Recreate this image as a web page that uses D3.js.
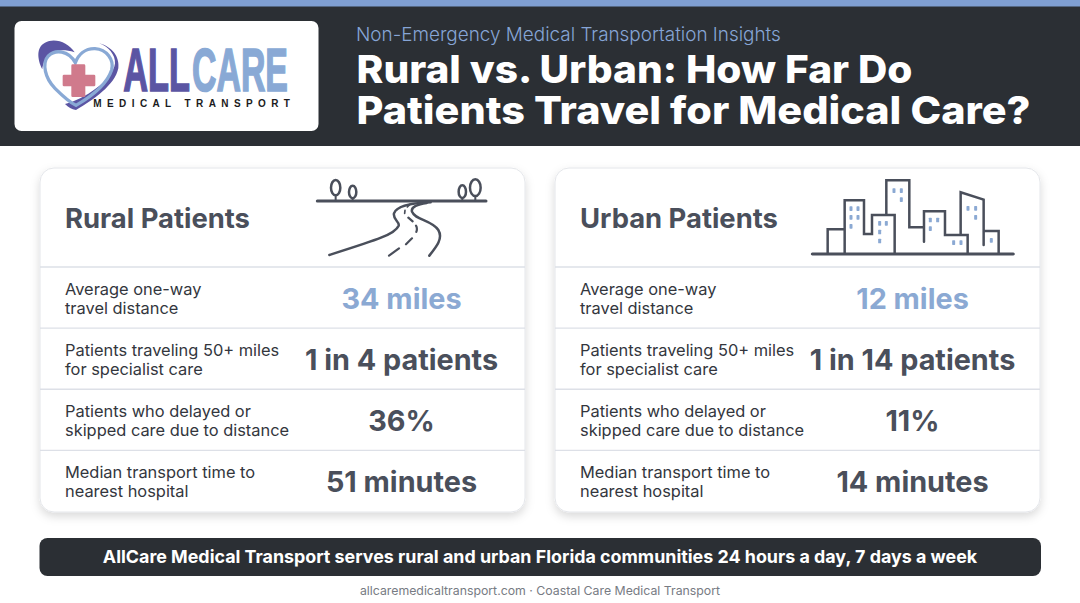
<!DOCTYPE html>
<html><head><meta charset="utf-8">
<script src="https://cdn.jsdelivr.net/npm/d3@7/dist/d3.min.js"></script>
<style>html,body{margin:0;padding:0;background:#fff}svg{display:block}text{font-family:Inter,sans-serif}</style>
</head><body><div id="c"></div>
<script>
const kicker = "Non-Emergency Medical Transportation Insights";
const titleLines = ["Rural vs. Urban: How Far Do", "Patients Travel for Medical Care?"];
const groups = ["Rural Patients", "Urban Patients"];
const metrics = [
  ["Average one-way", "travel distance"],
  ["Patients traveling 50+ miles", "for specialist care"],
  ["Patients who delayed or", "skipped care due to distance"],
  ["Median transport time to", "nearest hospital"]
];
const ruralValues = ["34 miles", "1 in 4 patients", "36%", "51 minutes"];
const urbanValues = ["12 miles", "1 in 14 patients", "11%", "14 minutes"];
const banner = "AllCare Medical Transport serves rural and urban Florida communities 24 hours a day, 7 days a week";
const footer = "allcaremedicaltransport.com \u00b7 Coastal Care Medical Transport";

const W = 1080, H = 603;
const ink = "#4a4f5b", blue = "#8ba9d3", line = "#dde0e7", dark = "#2b2f34";
const svg = d3.select("#c").append("svg").attr("width", W).attr("height", H);
const defs = svg.append("defs");
const f = defs.append("filter").attr("id","sh").attr("x","-5%").attr("y","-5%").attr("width","110%").attr("height","114%");
f.append("feDropShadow").attr("dx",0).attr("dy",4).attr("stdDeviation",5).attr("flood-color","#000").attr("flood-opacity",0.15);

// header
svg.append("rect").attr("width",W).attr("height",146).attr("fill",dark);
svg.append("rect").attr("width",W).attr("height",6.5).attr("fill","#7f9fd2");
svg.append("rect").attr("x",14.5).attr("y",21).attr("width",304).attr("height",110).attr("rx",7).attr("fill","#fff");

// logo (drawn in 3x zoom units)
const logo = svg.append("g").attr("transform","scale(0.3333)");
logo.append("path").attr("fill","#5b55a3").attr("d","M224 157C205 128 165 112 135 128C108 142 112 178 127 208C130 180 150 135 224 157Z");
logo.append("path").attr("fill","#5b55a3").attr("d","M298 130C335 140 360 170 355 205C345 255 280 300 228 330C215 328 205 322 195 312C250 300 340 240 345 190C347 165 325 140 298 130Z");
logo.append("path").attr("fill","none").attr("stroke","#89a9d5").attr("stroke-width",10).attr("d","M226 188C205 150 165 148 145 168C125 190 135 235 165 265C185 285 205 305 228 316C270 292 320 255 335 210C343 180 320 148 285 146C255 145 235 165 226 188Z");
logo.append("path").attr("fill","#d07a8c").attr("d","M218 193h34a4 4 0 0 1 4 4v27h26a4 4 0 0 1 4 4v27a4 4 0 0 1-4 4h-26v28a4 4 0 0 1-4 4h-34a4 4 0 0 1-4-4v-28h-22a4 4 0 0 1-4-4v-27a4 4 0 0 1 4-4h22v-27a4 4 0 0 1 4-4z");
const ls = (t,x,w,y,fs,fill) => {
  const el = logo.append("text").text(t).attr("font-size",fs).attr("font-weight",700).attr("fill",fill).attr("stroke",fill).attr("stroke-width",5).style("font-family","'Liberation Sans Narrow','Liberation Sans',sans-serif");
  const natural = el.node().getComputedTextLength();
  el.attr("transform",`translate(${x},${y}) scale(${w/natural},1)`);
};
ls("ALL",370,200,273,186,"#5b55a3");
ls("CARE",576,288,273,186,"#89a9d5");
logo.append("text").text("MEDICAL TRANSPORT").attr("x",280).attr("y",320).attr("textLength",590).attr("font-size",30).attr("font-weight",700).attr("fill","#1b1b20").style("font-family","'Liberation Sans',sans-serif");

// titles
svg.append("text").text(kicker).attr("x",356).attr("y",40.5).attr("font-size",18.9).attr("font-weight",300).attr("fill","#86a5d6");
const titleW = [556, 674];
svg.selectAll(".t").data(titleLines).join("text").attr("class","t").text(d=>d).attr("x",356.5).attr("y",(d,i)=>83+i*41).attr("font-size",38.5).attr("font-weight",800).attr("fill","#fff").attr("textLength",(d,i)=>titleW[i]).attr("lengthAdjust","spacingAndGlyphs");

// cards
const cardX = d3.scaleBand().domain(groups).range([40,1040]).paddingInner(30/515).paddingOuter(0);
const rowY = d3.scaleBand().domain(d3.range(metrics.length)).range([267,511.5]);
const vals = [ruralValues, urbanValues];
const valCx = [401.5, 912.5];
groups.forEach((g,gi)=>{
  const x0 = cardX(g), cw = cardX.bandwidth();
  const card = svg.append("g");
  card.append("rect").attr("x",x0).attr("y",168).attr("width",cw).attr("height",344).attr("rx",14).attr("fill","#fff").attr("stroke","#e4e6ea").attr("filter","url(#sh)");
  card.append("text").text(g).attr("x",x0+25).attr("y",227.5).attr("font-size",27.4).attr("font-weight",700).attr("fill",ink);
  metrics.forEach((m,i)=>{
    const y = rowY(i);
    card.append("line").attr("x1",x0).attr("x2",x0+cw).attr("y1",y).attr("y2",y).attr("stroke",line).attr("stroke-width",1.3);
    card.selectAll(null).data(m).join("text").text(d=>d).attr("x",x0+25).attr("y",(d,k)=>y+28+k*19).attr("font-size",16.4).attr("fill","#33363d");
    card.append("text").text(vals[gi][i]).attr("x",valCx[gi]).attr("y",y+rowY.bandwidth()/2+11.5).attr("text-anchor","middle").attr("font-size",28.8).attr("font-weight",700).attr("fill",i===0?blue:ink);
  });
});

// rural icon (3x zoom units)
const ri = svg.append("g").attr("transform","translate(300,165) scale(0.3333)").attr("fill","none").attr("stroke",ink).attr("stroke-linecap","round").attr("stroke-linejoin","round");
ri.append("path").attr("stroke-width",9).attr("d","M52 108H558");
ri.append("path").attr("stroke-width",7.5).attr("d","M392 112C340 114 290 122 282 145C278 165 300 170 296 182C285 208 230 225 88 270");
ri.append("path").attr("stroke-width",7.5).attr("d","M380 114C355 118 332 125 336 140C345 165 395 165 415 195C430 220 410 245 388 272");
ri.append("path").attr("stroke-width",5).attr("d","M330 118L322 126M315 136L314 145");
ri.append("path").attr("stroke-width",6.5).attr("d","M325 158L338 169M348 182Q353 190 349 201M336 220L318 238M297 250L267 272");
[[107,68,14,23],[158,81,11,19],[487,80,11,19],[526,68,16,25]].forEach(t=>{
  ri.append("ellipse").attr("cx",t[0]).attr("cy",t[1]).attr("rx",t[2]).attr("ry",t[3]).attr("stroke-width",7.5);
  ri.append("path").attr("stroke-width",6).attr("d",`M${t[0]} ${t[1]+t[3]}V106`);
});

// urban icon (3x zoom units)
const ui = svg.append("g").attr("transform","translate(800,165) scale(0.3333)").attr("fill","none").attr("stroke",ink).attr("stroke-width",7.5).attr("stroke-linejoin","miter").attr("stroke-linecap","round");
ui.append("path").attr("stroke-width",9).attr("d","M37 267H640");
ui.append("path").attr("d","M83 265V193H134M134 265V106H192V207H216V150H284V265M259 148V46H328V187H370M372 230V139H435V210H503V265M482 208V82L551 104V240M551 198H596V265");
const win = [[153,131],[174,131],[153,157],[174,157],[153,184],[239,175],[259,175],[239,201],[239,228],[282,77],[304,77],[304,104],[391,165],[413,165],[391,191],[461,233],[483,233],[504,130],[527,130],[527,157],[574,226]];
ui.selectAll("rect").data(win).join("rect").attr("x",d=>d[0]-4.5).attr("y",d=>d[1]-7).attr("width",9).attr("height",14).attr("rx",2).attr("fill",blue).attr("stroke","none");

// banner
svg.append("rect").attr("x",39.5).attr("y",538).attr("width",1001.5).attr("height",38).attr("rx",8).attr("fill",dark);
svg.append("text").text(banner).attr("x",540).attr("y",563).attr("text-anchor","middle").attr("font-size",17.87).attr("font-weight",700).attr("fill","#fff");
svg.append("text").text(footer).attr("x",540).attr("y",595).attr("text-anchor","middle").attr("font-size",12.3).attr("fill","#777b83");
</script></body></html>
